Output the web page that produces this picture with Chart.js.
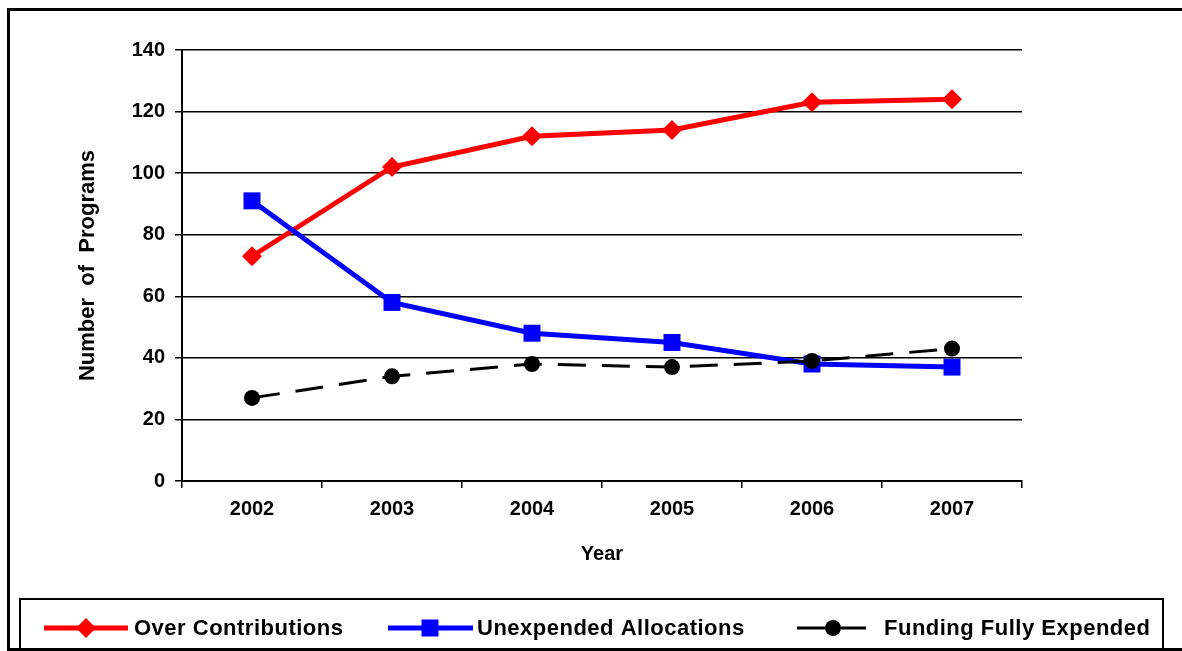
<!DOCTYPE html>
<html>
<head>
<meta charset="utf-8">
<script src="https://cdn.jsdelivr.net/npm/chart.js@4"></script>
<style>
  html, body { margin: 0; padding: 0; background: #fff; }
  canvas { display: block; }
</style>
</head>
<body>
<canvas id="programChart" width="1182" height="651"></canvas>
<script>
// data
const years = ['2002', '2003', '2004', '2005', '2006', '2007'];
const overContributions = [73, 102, 112, 114, 123, 124];
const unexpendedAllocations = [91, 58, 48, 45, 38, 37];
const fundingFullyExpended = [27, 34, 38, 37, 39, 43];
const yMin = 0, yMax = 140, yStep = 20;

const FONT = '"Liberation Sans", Arial, sans-serif';

// outer frame + custom legend (line + marker like the original)
const frameAndLegend = {
    id: 'frameAndLegend',
    afterDraw(chart) {
        const ctx = chart.ctx;
        ctx.save();
        ctx.strokeStyle = '#000';
        ctx.lineWidth = 3;
        ctx.strokeRect(8.5, 9.5, 1200, 640);
        ctx.lineWidth = 2;
        ctx.strokeRect(20, 599, 1143, 51);

        const cy = 628;
        const items = [
            { text: 'Over Contributions', color: '#FF0000', x1: 44, x2: 128, mx: 86, tx: 134, marker: 'diamond' },
            { text: 'Unexpended Allocations', color: '#0000FF', x1: 388, x2: 473, mx: 430, tx: 477, marker: 'square' },
            { text: 'Funding Fully Expended', color: '#000000', x1: 797, x2: 866, mx: 833, tx: 884, marker: 'circle' }
        ];
        items.forEach(it => {
            ctx.strokeStyle = it.color;
            ctx.fillStyle = it.color;
            if (it.marker === 'circle') {
                ctx.lineWidth = 3;
                ctx.beginPath();
                ctx.moveTo(it.x1, cy); ctx.lineTo(it.mx - 8, cy);
                ctx.moveTo(it.mx + 8, cy); ctx.lineTo(it.x2, cy);
                ctx.stroke();
                ctx.beginPath();
                ctx.arc(it.mx, cy, 8, 0, Math.PI * 2);
                ctx.fill();
            } else {
                ctx.lineWidth = 5;
                ctx.beginPath();
                ctx.moveTo(it.x1, cy); ctx.lineTo(it.x2, cy);
                ctx.stroke();
                ctx.beginPath();
                if (it.marker === 'diamond') {
                    ctx.moveTo(it.mx - 10, cy); ctx.lineTo(it.mx, cy - 10);
                    ctx.lineTo(it.mx + 10, cy); ctx.lineTo(it.mx, cy + 10);
                    ctx.closePath();
                } else {
                    ctx.rect(it.mx - 8.5, cy - 8.5, 17, 17);
                }
                ctx.fill();
            }
            ctx.fillStyle = '#000';
            ctx.font = 'bold 22px ' + FONT;
            ctx.letterSpacing = '0.5px';
            ctx.textBaseline = 'middle';
            ctx.textAlign = 'left';
            ctx.fillText(it.text, it.tx, cy + 1);
        });
        ctx.restore();
    }
};

new Chart(document.getElementById('programChart').getContext('2d'), {
    type: 'line',
    data: {
        labels: years,
        datasets: [{
            label: 'Over Contributions',
            data: overContributions,
            borderColor: '#FF0000',
            backgroundColor: '#FF0000',
            borderWidth: 5,
            pointStyle: 'rectRot',
            pointRadius: 10,
            pointHoverRadius: 10,
            pointBorderWidth: 0,
            tension: 0,
            order: 2
        }, {
            label: 'Unexpended Allocations',
            data: unexpendedAllocations,
            borderColor: '#0000FF',
            backgroundColor: '#0000FF',
            borderWidth: 5,
            pointStyle: 'rect',
            pointRadius: 12,
            pointHoverRadius: 12,
            pointBorderWidth: 0,
            tension: 0,
            order: 1
        }, {
            label: 'Funding Fully Expended',
            data: fundingFullyExpended,
            borderColor: '#000000',
            backgroundColor: '#000000',
            borderWidth: 3,
            borderDash: [28, 16],
            pointStyle: 'circle',
            pointRadius: 8,
            pointHoverRadius: 8,
            pointBorderWidth: 0,
            tension: 0,
            order: 0
        }]
    },
    options: {
        responsive: false,
        animation: false,
        layout: { padding: { left: 71, top: 50, right: 160, bottom: 81 } },
        plugins: {
            legend: { display: false },
            tooltip: { enabled: false }
        },
        scales: {
            x: {
                offset: true,
                grid: {
                    offset: true,
                    drawOnChartArea: false,
                    drawTicks: true,
                    tickLength: 7,
                    color: '#000',
                    lineWidth: 1.5
                },
                border: { display: true, color: '#000', width: 2 },
                ticks: {
                    color: '#000',
                    padding: 9,
                    font: { family: FONT, size: 20, weight: 'bold' }
                },
                title: {
                    display: true,
                    text: 'Year',
                    color: '#000',
                    padding: { top: 4, bottom: 4 },
                    font: { family: FONT, size: 20, weight: 'bold' }
                },
                afterFit(scale) { scale.height = 89; }
            },
            y: {
                min: yMin,
                max: yMax,
                grid: {
                    color: '#000',
                    lineWidth: 1.5,
                    drawTicks: true,
                    tickLength: 7
                },
                border: { display: true, color: '#000', width: 2 },
                ticks: {
                    stepSize: yStep,
                    color: '#000',
                    padding: 10,
                    font: { family: FONT, size: 20, weight: 'bold' }
                },
                title: {
                    display: true,
                    text: 'Number  of  Programs',
                    color: '#000',
                    padding: { top: 4, bottom: 4 },
                    font: { family: FONT, size: 22, weight: 'bold' }
                },
                afterFit(scale) { scale.width = 111; }
            }
        }
    },
    plugins: [frameAndLegend]
});
</script>
</body>
</html>
